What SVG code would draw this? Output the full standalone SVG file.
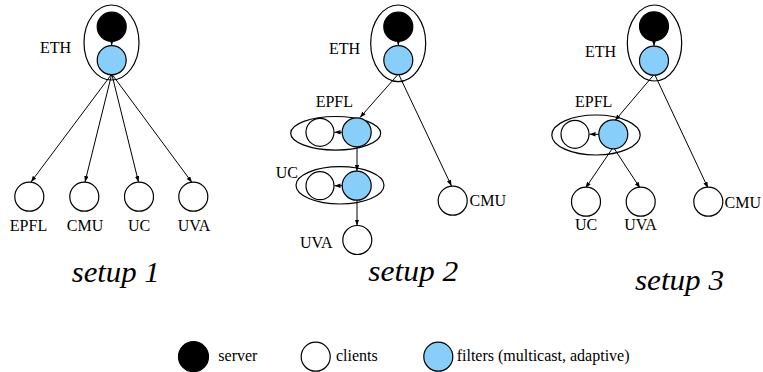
<svg xmlns="http://www.w3.org/2000/svg" width="763" height="372" viewBox="0 0 763 372">
<style>
  .lbl { font-family: "Liberation Serif", "Times New Roman", serif; font-size: 16px; fill: #000; }
  .title { font-family: "Liberation Serif", "Times New Roman", serif; font-size: 30px; font-style: italic; fill: #000; }
  .srv { fill: #000; stroke: #000; stroke-width: 1.2; }
  .cli { fill: #fff; stroke: #000; stroke-width: 1.2; }
  .flt { fill: #87cefa; stroke: #000; stroke-width: 1.2; }
  .grp { fill: none; stroke: #000; stroke-width: 1.2; }
  .edge { fill: none; stroke: #000; stroke-width: 1; marker-end: url(#arr); }
</style>
<defs>
  <marker id="arr" markerUnits="userSpaceOnUse" markerWidth="7" markerHeight="5" refX="6" refY="2.2" orient="auto">
    <path d="M0,0 L6,2.2 L0,4.4 z" fill="#000"/>
  </marker>
</defs>
<rect width="763" height="372" fill="#fff"/>

<!-- connectors -->
<g id="connectors">
  <!-- setup 1 -->
  <line class="edge" x1="111.7" y1="41.5" x2="111.7" y2="45.5"/>
  <line class="edge" x1="111" y1="75" x2="31" y2="182"/>
  <line class="edge" x1="111.5" y1="75" x2="85" y2="182"/>
  <line class="edge" x1="112" y1="75" x2="138.5" y2="182"/>
  <line class="edge" x1="112.5" y1="75" x2="192" y2="182.5"/>
  <!-- setup 2 -->
  <line class="edge" x1="398.3" y1="41.5" x2="398.3" y2="45.5"/>
  <line class="edge" x1="397.5" y1="75" x2="360" y2="117.5"/>
  <line class="edge" x1="399" y1="75" x2="451.5" y2="186"/>
  <line class="edge" x1="342.2" y1="132.3" x2="334.5" y2="132.3"/>
  <line class="edge" x1="357" y1="146.8" x2="357" y2="171"/>
  <line class="edge" x1="342.2" y1="185.7" x2="334.5" y2="185.7"/>
  <line class="edge" x1="357" y1="200.2" x2="357" y2="225.5"/>
  <!-- setup 3 -->
  <line class="edge" x1="654" y1="41" x2="654" y2="46"/>
  <line class="edge" x1="653.5" y1="75.2" x2="615" y2="120.5"/>
  <line class="edge" x1="655" y1="75.2" x2="708" y2="188"/>
  <line class="edge" x1="599" y1="134.3" x2="589.5" y2="134.3"/>
  <line class="edge" x1="612" y1="149" x2="585.5" y2="188"/>
  <line class="edge" x1="614.5" y1="149" x2="640" y2="188"/>
</g>

<!-- setup 1 nodes -->
<g id="s1-eth">
  <ellipse class="grp" cx="111.5" cy="42.5" rx="27.5" ry="37.5"/>
  <circle class="srv" cx="111.7" cy="26.7" r="14.5"/>
  <circle class="flt" cx="111.7" cy="60.2" r="14.5"/>
  <text class="lbl" x="40" y="53">ETH</text>
</g>
<g id="s1-epfl">
  <circle class="cli" cx="29.3" cy="196.7" r="14.5"/>
  <text class="lbl" x="28.5" y="231" text-anchor="middle">EPFL</text>
</g>
<g id="s1-cmu">
  <circle class="cli" cx="84.3" cy="196.7" r="14.5"/>
  <text class="lbl" x="85" y="231" text-anchor="middle">CMU</text>
</g>
<g id="s1-uc">
  <circle class="cli" cx="139" cy="196.7" r="14.5"/>
  <text class="lbl" x="139" y="231" text-anchor="middle">UC</text>
</g>
<g id="s1-uva">
  <circle class="cli" cx="193.3" cy="196.7" r="14.5"/>
  <text class="lbl" x="194" y="231" text-anchor="middle">UVA</text>
</g>
<text class="title" x="71.7" y="281.5" textLength="88" lengthAdjust="spacingAndGlyphs">setup 1</text>

<!-- setup 2 nodes -->
<g id="s2-eth">
  <ellipse class="grp" cx="398.2" cy="43.3" rx="27.5" ry="38.3"/>
  <circle class="srv" cx="398.3" cy="26.7" r="14.5"/>
  <circle class="flt" cx="398.3" cy="60.2" r="14.5"/>
  <text class="lbl" x="329" y="53.5">ETH</text>
</g>
<g id="s2-epfl">
  <ellipse class="grp" cx="335.7" cy="133.3" rx="45" ry="16.8"/>
  <circle class="cli" cx="320" cy="132.3" r="14"/>
  <circle class="flt" cx="356.7" cy="132.3" r="14.5"/>
  <text class="lbl" x="315.7" y="107">EPFL</text>
</g>
<g id="s2-uc">
  <ellipse class="grp" cx="340" cy="185.3" rx="44" ry="18.7"/>
  <circle class="cli" cx="320" cy="185.7" r="14"/>
  <circle class="flt" cx="356.7" cy="185.7" r="14.5"/>
  <text class="lbl" x="275.7" y="178">UC</text>
</g>
<g id="s2-uva">
  <circle class="cli" cx="357.3" cy="240" r="14.5"/>
  <text class="lbl" x="300" y="248.3">UVA</text>
</g>
<g id="s2-cmu">
  <circle class="cli" cx="452.7" cy="200.7" r="14.5"/>
  <text class="lbl" x="469.5" y="206">CMU</text>
</g>
<text class="title" x="368.3" y="281" textLength="90" lengthAdjust="spacingAndGlyphs">setup 2</text>

<!-- setup 3 nodes -->
<g id="s3-eth">
  <ellipse class="grp" cx="654.5" cy="43" rx="27.2" ry="38"/>
  <circle class="srv" cx="654" cy="26.3" r="14.5"/>
  <circle class="flt" cx="654" cy="60.7" r="14.5"/>
  <text class="lbl" x="585" y="56.5">ETH</text>
</g>
<g id="s3-epfl">
  <ellipse class="grp" cx="596" cy="135" rx="44.2" ry="20"/>
  <circle class="cli" cx="575" cy="134.3" r="14"/>
  <circle class="flt" cx="613.3" cy="134.3" r="14.5"/>
  <text class="lbl" x="575" y="107.3">EPFL</text>
</g>
<g id="s3-uc">
  <circle class="cli" cx="586" cy="201.7" r="14.5"/>
  <text class="lbl" x="586" y="230" text-anchor="middle">UC</text>
</g>
<g id="s3-uva">
  <circle class="cli" cx="640.7" cy="201.7" r="14.5"/>
  <text class="lbl" x="640.5" y="230" text-anchor="middle">UVA</text>
</g>
<g id="s3-cmu">
  <circle class="cli" cx="708.3" cy="201.7" r="14.5"/>
  <text class="lbl" x="724.5" y="208">CMU</text>
</g>
<text class="title" x="635" y="290" textLength="89" lengthAdjust="spacingAndGlyphs">setup 3</text>

<!-- legend -->
<g id="legend-server">
  <circle class="srv" cx="193.5" cy="356.7" r="15"/>
  <text class="lbl" x="218.3" y="361">server</text>
</g>
<g id="legend-clients">
  <circle class="cli" cx="315.7" cy="356.7" r="14.5"/>
  <text class="lbl" x="336" y="361">clients</text>
</g>
<g id="legend-filters">
  <circle class="flt" cx="438.3" cy="356.7" r="14.5"/>
  <text class="lbl" x="456.7" y="361">filters (multicast, adaptive)</text>
</g>
</svg>
